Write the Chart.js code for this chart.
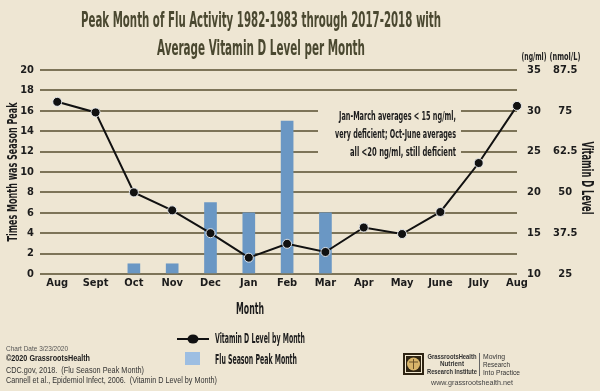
<!DOCTYPE html>
<html><head><meta charset="utf-8">
<script src="https://cdn.jsdelivr.net/npm/chart.js@4/dist/chart.umd.min.js"></script>
<style>
html,body{margin:0;padding:0;background:#eee6d3;}
#wrap{position:relative;width:600px;height:391px;}
</style></head>
<body><div id="wrap"><canvas id="c" width="600" height="391"></canvas></div>
<script>
const months = ["Aug","Sept","Oct","Nov","Dec","Jan","Feb","Mar","Apr","May","June","July","Aug"];
const fluPeakCounts = [null,null,1,1,7,6,15,6,null,null,null,null,null];
const vitDng = [31.1,29.8,20,17.8,15,12,13.7,12.7,15.7,14.9,17.6,23.6,30.6];
const leftTicks = {min:0,max:20,step:2};
const ngTicks = {min:10,max:35,step:5};
const nmolTicks = {min:25,max:87.5,step:12.5};
const titleLines = ["Peak Month of Flu Activity 1982-1983 through 2017-2018 with","Average Vitamin D Level per Month"];
const noteLines = ["Jan-March averages < 15 ng/ml,","very deficient; Oct-June averages","all <20 ng/ml, still deficient"];
const footLines = ["Chart Date 3/23/2020","\u00A92020 GrassrootsHealth","CDC.gov, 2018.  (Flu Season Peak Month)","Cannell et al., Epidemiol Infect, 2006.  (Vitamin D Level by Month)"];

const CF = '"Liberation Sans Narrow","DejaVu Sans Condensed","Roboto Condensed",sans-serif';
const SF = '"Liberation Sans",Arial,sans-serif';
const BG = '#eee6d3';

function txt(ctx,s,x,y,font,color,align,maxW){
  ctx.font=font;ctx.fillStyle=color;ctx.textAlign=align||'left';ctx.textBaseline='middle';
  if(maxW) ctx.fillText(s,x,y,maxW); else ctx.fillText(s,x,y);
}

const deco = {
  id:'deco',
  beforeDatasetsDraw(chart){
    const ctx=chart.ctx; ctx.save();
    ctx.fillStyle=BG; ctx.fillRect(318,105,143,54);
    const ws=[117,121,106];
    noteLines.forEach((l,i)=>txt(ctx,l,456,117+i*18,'bold 12px '+CF,'#1c1c1c','right',ws[i]));
    ctx.restore();
  },
  afterDraw(chart){
    const ctx=chart.ctx; ctx.save();
    txt(ctx,titleLines[0],261,22,'bold 21px '+CF,'#4a4830','center',360);
    txt(ctx,titleLines[1],261,50,'bold 21px '+CF,'#4a4830','center',208);
    txt(ctx,'(ng/ml)',534,57,'bold 10px '+CF,'#222','center',25);
    txt(ctx,'(nmol/L)',565,57,'bold 10px '+CF,'#222','center',31);
    ctx.save();ctx.translate(13,172);ctx.rotate(-Math.PI/2);
    txt(ctx,'Times Month was Season Peak',0,0,'bold 14px '+CF,'#1c1c1c','center',139);
    ctx.restore();
    ctx.save();ctx.translate(586,178);ctx.rotate(Math.PI/2);
    txt(ctx,'Vitamin D Level',0,0,'bold 15px '+CF,'#1c1c1c','center',73);
    ctx.restore();
    txt(ctx,'Month',250,310,'bold 15px '+CF,'#1c1c1c','center',28);
    const dl=chart.data.datasets[0], db=chart.data.datasets[1];
    ctx.strokeStyle=dl.borderColor;ctx.lineWidth=2;ctx.beginPath();ctx.moveTo(177,339);ctx.lineTo(209,339);ctx.stroke();
    ctx.fillStyle=dl.pointBackgroundColor;ctx.beginPath();ctx.ellipse(193,339,5.5,4.5,0,0,Math.PI*2);ctx.fill();
    txt(ctx,dl.label,215,339,'bold 14px '+CF,'#1c1c1c','left',90);
    ctx.fillStyle='#9dbee2';ctx.fillRect(185,352,15,13);
    txt(ctx,db.label,215,360,'bold 14px '+CF,'#1c1c1c','left',82);
    txt(ctx,footLines[0],6,349,'8px '+SF,'#555','left',62);
    txt(ctx,footLines[1],6,359,'bold 9px '+SF,'#222','left',84);
    txt(ctx,footLines[2],6,371,'9px '+SF,'#333','left',138);
    txt(ctx,footLines[3],6,381,'9px '+SF,'#333','left',211);
    ctx.fillStyle='#2e2413';ctx.fillRect(403,353,21,22);
    ctx.fillStyle='#f3ead2';ctx.fillRect(405,355,17,18);
    ctx.fillStyle='#2e2413';ctx.fillRect(406,356,15,16);
    ctx.fillStyle='#d8b56a';ctx.beginPath();ctx.arc(413.5,364,6.5,0,Math.PI*2);ctx.fill();
    ctx.strokeStyle='#6b5228';ctx.lineWidth=1;ctx.beginPath();ctx.moveTo(413.5,359);ctx.lineTo(413.5,369);ctx.moveTo(409,362);ctx.lineTo(418,362);ctx.stroke();
    txt(ctx,'GrassrootsHealth',452,357,'bold 7px '+SF,'#333','center',49);
    txt(ctx,'Nutrient',452,364.5,'bold 7px '+SF,'#333','center',24);
    txt(ctx,'Research Institute',452,372,'bold 7px '+SF,'#333','center',50);
    ctx.strokeStyle='#666';ctx.beginPath();ctx.moveTo(479.5,353);ctx.lineTo(479.5,376);ctx.stroke();
    txt(ctx,'Moving',483,357,'7px '+SF,'#333','left',22);
    txt(ctx,'Research',483,365,'7px '+SF,'#333','left',27);
    txt(ctx,'Into Practice',483,373,'7px '+SF,'#333','left',37);
    txt(ctx,'www.grassrootshealth.net',472,383,'8px '+SF,'#444','center',82);
    ctx.restore();
  }
};

const lineData = vitDng.map((v,i)=>({x:i,y:v}));
const barData = fluPeakCounts.map((v,i)=>({x:i,y:v})).filter(p=>p.y!==null);
const tickFont = {family:CF,weight:'bold',size:11};

new Chart(document.getElementById('c'),{
  data:{datasets:[
    {type:'line',label:'Vitamin D Level by Month',data:lineData,yAxisID:'y2',xAxisID:'x',
     borderColor:'#111',borderWidth:2,pointRadius:4.5,pointHoverRadius:4.5,
     pointBackgroundColor:'#111',pointBorderColor:'rgba(236,240,244,0.9)',pointBorderWidth:1,
     tension:0,clip:false,order:0},
    {type:'bar',label:'Flu Season Peak Month',data:barData,yAxisID:'y',xAxisID:'x',
     backgroundColor:'#6a97c4',barThickness:12,order:1}
  ]},
  plugins:[deco],
  options:{
    responsive:false,animation:false,
    layout:{padding:{top:70,bottom:93,left:0,right:0}},
    plugins:{legend:{display:false},title:{display:false},tooltip:{enabled:false}},
    scales:{
      x:{type:'linear',min:-0.45,max:12,position:'bottom',offset:false,
         grid:{display:false,drawTicks:false,offset:false},border:{display:false},
         afterFit(s){s.height=24;},
         ticks:{stepSize:1,autoSkip:false,maxRotation:0,includeBounds:false,padding:3,
                font:tickFont,color:'#1c1c1c',
                callback:(v)=>Number.isInteger(v)?months[v]:''}},
      y:{position:'left',min:leftTicks.min,max:leftTicks.max,
         afterFit(s){s.width=40;},
         grid:{color:'#7d7458',lineWidth:2,drawTicks:false},border:{display:false},
         ticks:{stepSize:leftTicks.step,padding:6,font:tickFont,color:'#1c1c1c'}},
      y2:{position:'right',min:ngTicks.min,max:ngTicks.max,weight:0,
          afterFit(s){s.width=32;},
          grid:{display:false,drawTicks:false},border:{display:false},
          ticks:{stepSize:ngTicks.step,padding:10,crossAlign:'center',font:tickFont,color:'#1c1c1c'}},
      y3:{position:'right',min:nmolTicks.min,max:nmolTicks.max,weight:1,
          afterFit(s){s.width=51;},
          grid:{display:false,drawTicks:false},border:{display:false},
          ticks:{stepSize:nmolTicks.step,padding:4,crossAlign:'center',font:tickFont,color:'#1c1c1c'}}
    }
  }
});
</script></body></html>
